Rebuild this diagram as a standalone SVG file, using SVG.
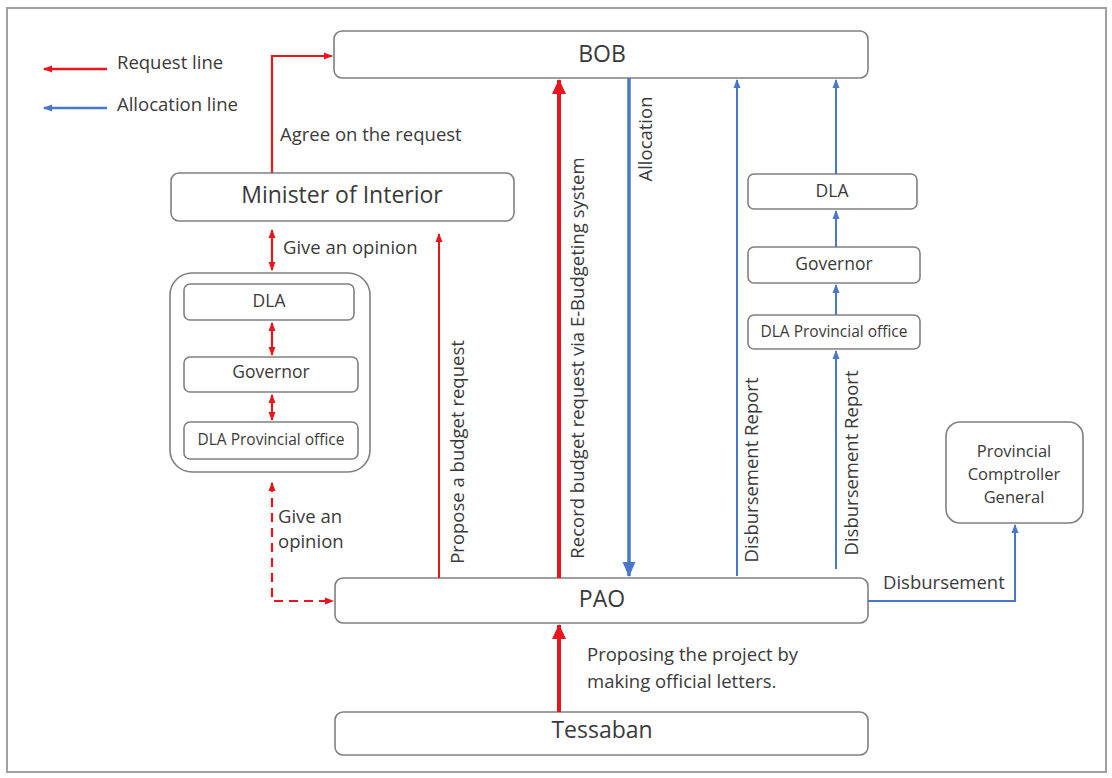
<svg xmlns="http://www.w3.org/2000/svg" width="1112" height="778" viewBox="0 0 1112 778">
  <style>
    .box { fill: #ffffff; stroke: #808080; stroke-width: 1.6; }
    .txt { font-family: "Open Sans", "Liberation Sans", sans-serif; fill: #3a3a3a; }
    .lbl { font-size: 18.5px; }
    .big { font-size: 23px; }
    .sm { font-size: 17.5px; }
    .xs { font-size: 15.5px; }
    .cg { font-size: 16.5px; }
    .red { stroke: #e8161c; fill: none; }
    .blue { stroke: #4a78c8; fill: none; }
  </style>
  <defs>
    <marker id="rSmall" markerUnits="userSpaceOnUse" markerWidth="10" markerHeight="10" refX="8" refY="5" orient="auto-start-reverse" viewBox="0 0 10 10">
      <path d="M0,1.5 L9,5 L0,8.5 Z" fill="#e8161c"/>
    </marker>
    <marker id="rBig" markerUnits="userSpaceOnUse" markerWidth="16" markerHeight="16" refX="14" refY="8" orient="auto" viewBox="0 0 16 16">
      <path d="M0,1 L15,8 L0,15 Z" fill="#e8161c"/>
    </marker>
    <marker id="bSmall" markerUnits="userSpaceOnUse" markerWidth="10" markerHeight="10" refX="8" refY="5" orient="auto-start-reverse" viewBox="0 0 10 10">
      <path d="M0,1.5 L9,5 L0,8.5 Z" fill="#4a78c8"/>
    </marker>
    <marker id="bBig" markerUnits="userSpaceOnUse" markerWidth="16" markerHeight="16" refX="14" refY="8" orient="auto" viewBox="0 0 16 16">
      <path d="M0,1.5 L15,8 L0,14.5 Z" fill="#4a78c8"/>
    </marker>
  </defs>

  <rect x="0" y="0" width="1112" height="778" fill="#ffffff"/>
  <rect x="7" y="8" width="1099" height="764" fill="none" stroke="#a0a0a0" stroke-width="2"/>

  <!-- legend -->
  <g id="legend">
    <line class="red" x1="107" y1="69" x2="44" y2="69" stroke-width="2.5" marker-end="url(#rSmall)"/>
    <text class="txt lbl" x="117" y="69">Request line</text>
    <line class="blue" x1="107" y1="108" x2="44" y2="108" stroke-width="2.5" marker-end="url(#bSmall)"/>
    <text class="txt lbl" x="117" y="111">Allocation line</text>
  </g>

  <!-- nodes -->
  <g id="bob">
    <rect class="box" x="334" y="31" width="534" height="47" rx="8"/>
    <text class="txt big" x="602" y="62" text-anchor="middle">BOB</text>
  </g>
  <g id="minister">
    <rect class="box" x="171" y="173" width="343" height="48" rx="8"/>
    <text class="txt big" x="342" y="203" text-anchor="middle">Minister of Interior</text>
  </g>
  <g id="opinion-group">
    <rect class="box" x="170" y="273" width="200" height="199" rx="22"/>
  </g>
  <g id="dla-left">
    <rect class="box" x="184" y="284" width="170" height="36" rx="6"/>
    <text class="txt sm" x="269" y="307" text-anchor="middle">DLA</text>
  </g>
  <g id="governor-left">
    <rect class="box" x="184" y="357" width="174" height="35" rx="6"/>
    <text class="txt sm" x="271" y="378" text-anchor="middle">Governor</text>
  </g>
  <g id="dla-provincial-left">
    <rect class="box" x="184" y="422" width="174" height="37" rx="6"/>
    <text class="txt xs" x="271" y="445" text-anchor="middle">DLA Provincial office</text>
  </g>
  <g id="dla-right">
    <rect class="box" x="748" y="174" width="169" height="35" rx="6"/>
    <text class="txt sm" x="832" y="197" text-anchor="middle">DLA</text>
  </g>
  <g id="governor-right">
    <rect class="box" x="748" y="247" width="172" height="36" rx="6"/>
    <text class="txt sm" x="834" y="270" text-anchor="middle">Governor</text>
  </g>
  <g id="dla-provincial-right">
    <rect class="box" x="748" y="315" width="172" height="34" rx="6"/>
    <text class="txt xs" x="834" y="337" text-anchor="middle">DLA Provincial office</text>
  </g>
  <g id="comptroller">
    <rect class="box" x="946" y="422" width="137" height="101" rx="14"/>
    <text class="txt cg" x="1014" y="457" text-anchor="middle">Provincial</text>
    <text class="txt cg" x="1014" y="480" text-anchor="middle">Comptroller</text>
    <text class="txt cg" x="1014" y="503" text-anchor="middle">General</text>
  </g>
  <g id="pao">
    <rect class="box" x="335" y="578" width="533" height="45" rx="8"/>
    <text class="txt big" x="602" y="607" text-anchor="middle">PAO</text>
  </g>
  <g id="tessaban">
    <rect class="box" x="335" y="712" width="533" height="43" rx="8"/>
    <text class="txt big" x="602" y="738" text-anchor="middle">Tessaban</text>
  </g>

  <!-- connectors -->
  <g id="connectors">
    <!-- Minister -> BOB -->
    <polyline class="red" points="272,173 272,56 332,56" stroke-width="2.2" marker-end="url(#rSmall)"/>
    <!-- Minister <-> opinion group -->
    <line class="red" x1="272" y1="230" x2="272" y2="270" stroke-width="2.2" marker-start="url(#rSmall)" marker-end="url(#rSmall)"/>
    <line class="red" x1="272" y1="323" x2="272" y2="355" stroke-width="2.2" marker-start="url(#rSmall)" marker-end="url(#rSmall)"/>
    <line class="red" x1="272" y1="395" x2="272" y2="420" stroke-width="2.2" marker-start="url(#rSmall)" marker-end="url(#rSmall)"/>
    <!-- dashed opinion between PAO and group -->
    <polyline class="red" points="272,483 272,601 333,601" stroke-width="2.2" stroke-dasharray="9,6" marker-start="url(#rSmall)" marker-end="url(#rSmall)"/>
    <!-- PAO -> Minister (propose) -->
    <line class="red" x1="439" y1="578" x2="439" y2="234" stroke-width="2" marker-end="url(#rSmall)"/>
    <!-- PAO -> BOB (record budget request) -->
    <line class="red" x1="559" y1="578" x2="559" y2="80" stroke-width="4" marker-end="url(#rBig)"/>
    <!-- BOB -> PAO (allocation) -->
    <line class="blue" x1="629" y1="78" x2="629" y2="576" stroke-width="3.5" marker-end="url(#bBig)"/>
    <!-- disbursement report direct -->
    <line class="blue" x1="737" y1="576" x2="737" y2="80" stroke-width="2" marker-end="url(#bSmall)"/>
    <!-- disbursement report via provincial chain -->
    <line class="blue" x1="836" y1="569" x2="836" y2="351" stroke-width="2" marker-end="url(#bSmall)"/>
    <line class="blue" x1="836" y1="315" x2="836" y2="285" stroke-width="2" marker-end="url(#bSmall)"/>
    <line class="blue" x1="836" y1="247" x2="836" y2="211" stroke-width="2" marker-end="url(#bSmall)"/>
    <line class="blue" x1="836" y1="174" x2="836" y2="80" stroke-width="2" marker-end="url(#bSmall)"/>
    <!-- PAO -> Comptroller -->
    <polyline class="blue" points="868,601 1015,601 1015,525" stroke-width="2" marker-end="url(#bSmall)"/>
    <!-- Tessaban -> PAO -->
    <line class="red" x1="559" y1="712" x2="559" y2="625" stroke-width="4" marker-end="url(#rBig)"/>

    <!-- connector labels -->
    <text class="txt lbl" x="280" y="141">Agree on the request</text>
    <text class="txt lbl" x="283" y="254">Give an opinion</text>
    <text class="txt lbl" x="278" y="523">Give an</text>
    <text class="txt lbl" x="278" y="548">opinion</text>
    <text class="txt lbl" transform="translate(464,452) rotate(-90)" text-anchor="middle">Propose a budget request</text>
    <text class="txt lbl" transform="translate(584,358) rotate(-90)" text-anchor="middle">Record budget request via E-Budgeting system</text>
    <text class="txt lbl" transform="translate(652,139) rotate(-90)" text-anchor="middle">Allocation</text>
    <text class="txt lbl" transform="translate(758,470) rotate(-90)" text-anchor="middle">Disbursement  Report</text>
    <text class="txt lbl" transform="translate(858,463) rotate(-90)" text-anchor="middle">Disbursement  Report</text>
    <text class="txt lbl" x="883" y="589">Disbursement</text>
    <text class="txt lbl" x="587" y="661">Proposing the project by</text>
    <text class="txt lbl" x="587" y="688">making official letters.</text>
  </g>
</svg>
